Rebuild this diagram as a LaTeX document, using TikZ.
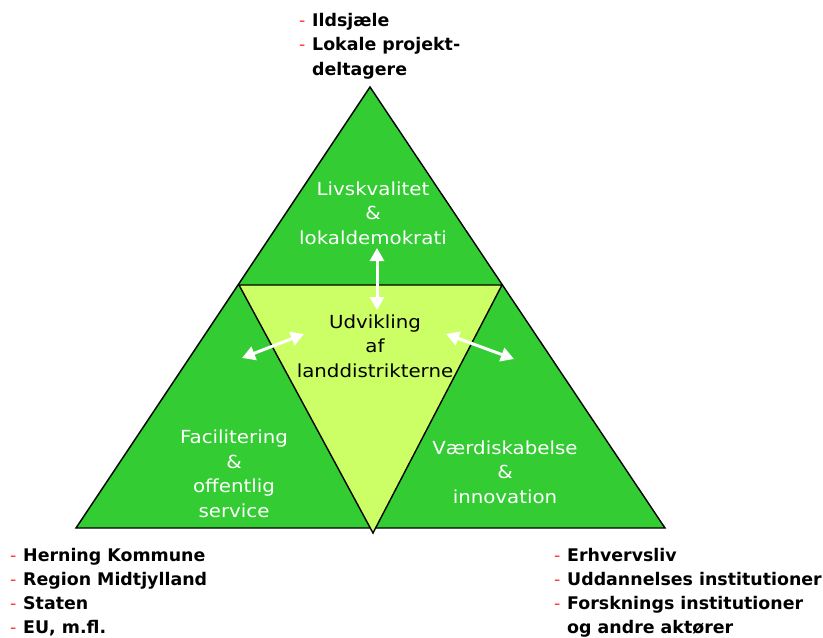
\documentclass[tikz,border=0pt]{standalone}
\usepackage{fontspec}
\setmainfont{DejaVu Sans}
\newfontfamily\regfont{DejaVu Sans}[FakeStretch=1.1]
\usetikzlibrary{arrows.meta}
\definecolor{tgreen}{HTML}{33CC33}
\definecolor{tlight}{HTML}{CCFF66}
\definecolor{dashred}{HTML}{FF3333}
\newcommand{\rdash}{\makebox[13pt][l]{\mdseries\textcolor{dashred}{-}}}
\newcommand{\rind}{\hspace*{13pt}}
\tikzset{
  tri/.style={draw=black, line width=1.4pt, line join=miter},
  inlabel/.style={text=white, font=\regfont\fontsize{18}{24.5}\selectfont, align=center},
  midlabel/.style={text=black, font=\regfont\fontsize{18}{24.5}\selectfont, align=center},
  outlabel/.style={text=black, font=\bfseries\fontsize{17.4}{24.7}\selectfont, anchor=base west, inner sep=0pt},
  warrow/.style={draw=white, line width=3pt, {Triangle[length=13pt,width=14pt]}-{Triangle[length=13pt,width=14pt]}}
}
\begin{document}
\begin{tikzpicture}[x=1pt,y=-1pt]
\useasboundingbox (0,0) rectangle (823,638);
% triangles
\coordinate (A) at (370,87);
\coordinate (L) at (76,528);
\coordinate (R) at (665,528);
\coordinate (IL) at (239,285);
\coordinate (IR) at (502,285);
\coordinate (IB) at (373,533);
\fill[tgreen] (A) -- (L) -- (R) -- cycle;
\draw[tri] (A) -- (L) -- (R) -- cycle;
\filldraw[tri, fill=tlight] (IL) -- (IR) -- (IB) -- cycle;

% labels inside
\node[inlabel] (top) at (373,213) {Livskvalitet\\\&\\lokaldemokrati};
\node[midlabel] (mid) at (375,346) {Udvikling\\af\\landdistrikterne};
\node[inlabel] (left) at (234,474) {Facilitering\\\&\\offentlig\\service};
\node[inlabel] (right) at (505,472) {Værdiskabelse\\\&\\innovation};

% arrows
\coordinate (v1) at (377,248);
\coordinate (v2) at (377,310);
\coordinate (l1) at (242,358);
\coordinate (l2) at (304,334);
\coordinate (r1) at (446,334);
\coordinate (r2) at (514,359);
\draw[warrow] (v1) -- (v2);
\draw[warrow] (l1) -- (l2);
\draw[warrow] (r1) -- (r2);

% outer labels, top
\node[outlabel] (t1) at (299,26) {\rdash Ildsjæle};
\node[outlabel] (t2) at (299,50.7) {\rdash Lokale projekt-};
\node[outlabel] (t3) at (299,75.4) {\rind deltagere};
% bottom left
\node[outlabel] (b1) at (10,561) {\rdash Herning Kommune};
\node[outlabel] (b2) at (10,585) {\rdash Region Midtjylland};
\node[outlabel] (b3) at (10,609) {\rdash Staten};
\node[outlabel] (b4) at (10,633) {\rdash EU, m.fl.};
% bottom right
\node[outlabel] (r1t) at (554,561) {\rdash Erhvervsliv};
\node[outlabel] (r2t) at (554,585) {\rdash Uddannelses institutioner};
\node[outlabel] (r3t) at (554,609) {\rdash Forsknings institutioner};
\node[outlabel] (r4t) at (554,633) {\rind og andre aktører};
\end{tikzpicture}
\end{document}
